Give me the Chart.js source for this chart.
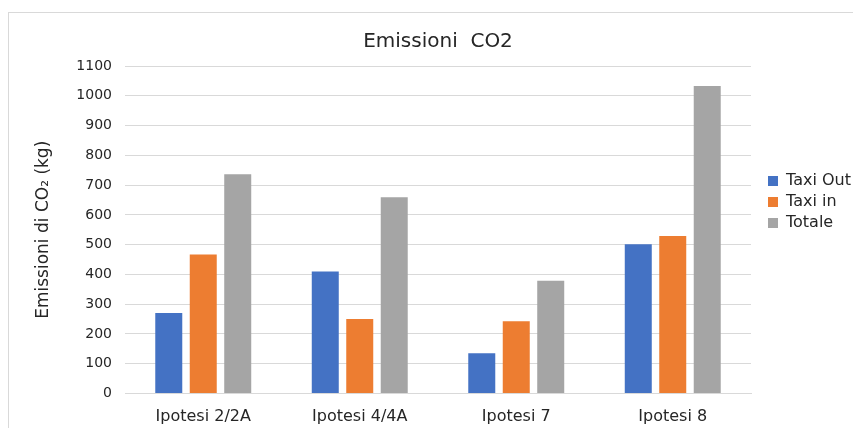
<!DOCTYPE html>
<html>
<head>
<meta charset="utf-8">
<script src="https://cdn.jsdelivr.net/npm/chart.js@4/dist/chart.umd.min.js"></script>
<style>
  html, body { margin: 0; padding: 0; background: #ffffff; overflow: hidden; }
  #frame { position: absolute; left: 8px; top: 12px; width: 900px; height: 500px; border: 1px solid #d9d9d9; }
  #c { position: absolute; left: 0; top: 0; }
</style>
</head>
<body>
<div id="frame"></div>
<canvas id="c" width="853" height="428"></canvas>
<script>
const categories = ['Ipotesi 2/2A', 'Ipotesi 4/4A', 'Ipotesi 7', 'Ipotesi 8'];
const seriesNames = ['Taxi Out', 'Taxi in', 'Totale'];
const taxiOut = [270, 410, 135, 501];
const taxiIn = [467, 250, 243, 529];
const totale = [736, 659, 379, 1033];
const yTicksMax = 1100;
const yTickStep = 100;

const FONT = 'DejaVu Sans';
const colors = ['#4472C4', '#ED7D31', '#A5A5A5'];

const legendPlace = {
  id: 'legendPlace',
  afterLayout(chart) {
    const lg = chart.legend;
    if (!lg) return;
    const w = lg.width, h = lg.height;
    lg.left = 763; lg.right = lg.left + w;
    lg.top = 168; lg.bottom = lg.top + h;
  }
};

new Chart(document.getElementById('c'), {
  type: 'bar',
  data: {
    labels: categories,
    datasets: [
      { label: seriesNames[0], data: taxiOut, backgroundColor: colors[0], borderWidth: 0 },
      { label: seriesNames[1], data: taxiIn, backgroundColor: colors[1], borderWidth: 0 },
      { label: seriesNames[2], data: totale, backgroundColor: colors[2], borderWidth: 0 }
    ]
  },
  options: {
    responsive: false,
    animation: false,
    categoryPercentage: 0.661,
    barPercentage: 0.783,
    layout: { padding: { left: 0, right: 102, top: 0, bottom: 0 } },
    plugins: {
      title: {
        display: true,
        fullSize: false,
        text: 'Emissioni  CO2',
        color: '#262626',
        font: { family: FONT, size: 20, weight: 'normal', lineHeight: 1.2 },
        padding: { top: 30, bottom: 12 }
      },
      legend: {
        display: true,
        position: 'chartArea',
        align: 'start',
        labels: {
          boxWidth: 10,
          boxHeight: 10,
          padding: 5,
          color: '#262626',
          font: { family: FONT, size: 16 }
        }
      },
      tooltip: { enabled: false }
    },
    scales: {
      x: {
        grid: { display: false, drawTicks: false },
        border: { display: true, color: '#d9d9d9', width: 1 },
        ticks: { color: '#262626', padding: 14, font: { family: FONT, size: 16 } },
        afterFit(scale) { scale.height = 34.5; }
      },
      y: {
        min: 0,
        max: yTicksMax,
        grid: { color: '#d9d9d9', lineWidth: 1, drawTicks: false },
        border: { display: false },
        ticks: {
          stepSize: yTickStep,
          color: '#262626',
          padding: 13,
          font: { family: FONT, size: 14 },
          callback: (v) => String(v)
        },
        title: {
          display: true,
          text: 'Emissioni di CO₂ (kg)',
          color: '#262626',
          font: { family: FONT, size: 17 },
          padding: { top: 33, bottom: 0 }
        },
        afterFit(scale) { scale.width = 125; }
      }
    }
  },
  plugins: [legendPlace]
});
</script>
</body>
</html>
